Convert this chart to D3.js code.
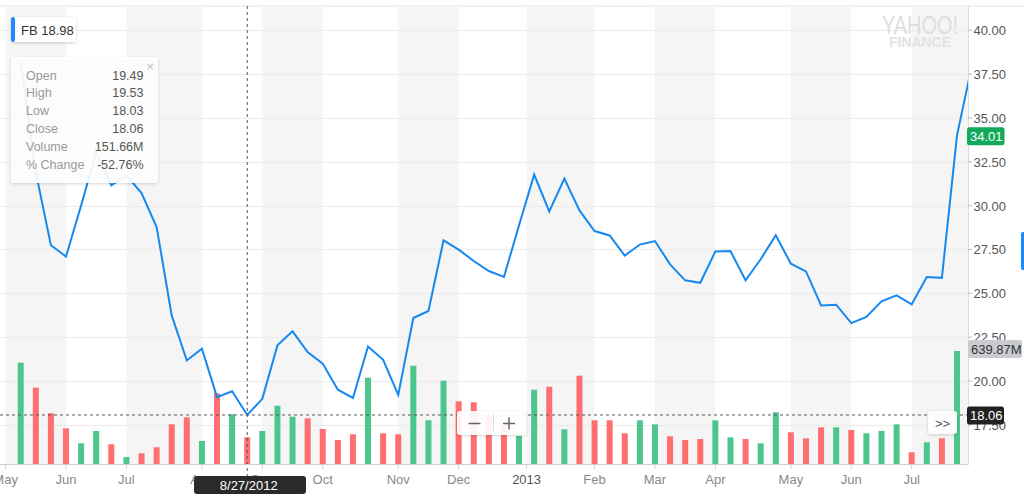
<!DOCTYPE html>
<html>
<head>
<meta charset="utf-8">
<script src="https://cdn.jsdelivr.net/npm/d3@7"></script>
<style>
  html, body { margin: 0; padding: 0; background: #fff; }
  svg { display: block; font-family: "Helvetica Neue", Helvetica, "Liberation Sans", Arial, sans-serif; }
</style>
</head>
<body>
<svg id="chart" width="1024" height="496"></svg>
<script>
// ---- data (weekly, FB, week of 2012-05-14 .. 2013-07-22, plus following week clipped) ----
const closes = [38.23,31.91,27.74,27.10,30.01,33.05,31.16,31.73,30.72,28.78,
  23.74,21.17,21.84,19.08,19.41,18.06,18.98,22.03,22.83,21.65,
  20.99,19.50,19.03,21.97,21.21,19.21,23.59,23.99,28.02,27.49,
  26.84,26.27,25.93,28.88,31.77,29.67,31.54,29.73,28.55,28.30,
  27.15,27.78,27.98,26.65,25.74,25.60,27.39,27.41,25.74,26.94,
  28.31,26.69,26.25,24.31,24.35,23.30,23.65,24.54,24.88,24.37,
  25.93,25.88,34.01,38.05];
const volumesM = [573.6,432.1,287.1,202.2,117.2,186.9,111.6,39.6,60.6,94.6,
  224.8,264.4,130.2,400.3,281.4,151.66,186.9,330.1,267.8,258.8,
  198.2,135.9,168.2,488.7,173.8,168.2,556.6,247.5,471.7,355.0,
  349.4,270,220,158.6,420.7,437.7,196.5,500.0,247.5,247.5,
  173.8,247.5,224.8,156.9,135.9,141.6,247.5,151.2,141.6,117.2,
  292.8,179.5,145.5,207.8,207.8,192.5,173.8,186.9,224.8,66.3,
  122.9,145.5,639.87];
const tickLabels = ["May","Jun","Jul","Aug","Sep","Oct","Nov","Dec","2013","Feb","Mar","Apr","May","Jun","Jul"];
const tickWeeks  = [-1, 3, 7, 12, 16, 20, 25, 29, 33.5, 38, 42, 46, 51, 55, 59];
const priceTicks = [17.5, 20, 22.5, 25, 27.5, 30, 32.5, 35, 37.5, 40];
const tooltipRows = [["Open","19.49"],["High","19.53"],["Low","18.03"],["Close","18.06"],["Volume","151.66M"],["% Change","-52.76%"]];
const hoverIndex = 15, hoverDate = "8/27/2012", hoverClose = 18.06;
const lastClose = 34.01, lastVolume = "639.87M", symbolLabel = "FB 18.98";

// ---- layout ----
const W = 1024, H = 496;
const plotL = 0, plotR = 968, plotT = 6, plotB = 464;
const svg = d3.select("#chart");

const x = d3.scaleLinear().domain([0, 62]).range([20.7, 957]);
const y = d3.scaleLinear().domain([17.5, 40]).range([424.8, 30.3]);
const yv = d3.scaleLinear().domain([0, 639.87]).range([plotB, 351]);

const defs = svg.append("defs");
defs.append("clipPath").attr("id","clip").append("rect")
  .attr("x", plotL).attr("y", plotT).attr("width", plotR - plotL).attr("height", plotB - plotT);
const sh = defs.append("filter").attr("id","shadow").attr("x","-20%").attr("y","-20%").attr("width","140%").attr("height","150%");
sh.append("feDropShadow").attr("dx",0).attr("dy",1).attr("stdDeviation",1.6).attr("flood-color","#000").attr("flood-opacity",0.18);

// top border
svg.append("line").attr("x1",0).attr("x2",W).attr("y1",plotT).attr("y2",plotT).attr("stroke","#e4e4e4");

// alternating month bands
const bands = svg.append("g").attr("clip-path","url(#clip)");
tickWeeks.forEach((t, k) => {
  if (k % 2 === 0) {
    const x0 = x(t), x1 = k + 1 < tickWeeks.length ? x(tickWeeks[k+1]) : plotR;
    bands.append("rect").attr("x", x0).attr("y", plotT).attr("width", x1 - x0).attr("height", plotB - plotT).attr("fill","#f5f5f5");
  }
});

// grid lines
svg.append("g").selectAll("line").data(priceTicks).join("line")
  .attr("x1", plotL).attr("x2", plotR).attr("y1", d => Math.round(y(d)) + 0.5).attr("y2", d => Math.round(y(d)) + 0.5)
  .attr("stroke","#ebebeb");

// volume bars
const up = volumesM.map((v, i) => i === 0 || closes[i] >= closes[i-1]);
svg.append("g").attr("clip-path","url(#clip)").selectAll("rect").data(volumesM).join("rect")
  .attr("x", (d, i) => x(i) - 3).attr("width", 6)
  .attr("y", d => yv(d)).attr("height", d => plotB - yv(d))
  .attr("fill", (d, i) => up[i] ? "#4cc68d" : "#ff6f70");

// price line
svg.append("path").attr("clip-path","url(#clip)")
  .datum(closes)
  .attr("d", d3.line().x((d, i) => x(i)).y(d => y(d)))
  .attr("fill","none").attr("stroke","#1589f0").attr("stroke-width",2).attr("stroke-linejoin","miter");

// crosshairs
svg.append("line").attr("x1", plotL).attr("x2", plotR).attr("y1", y(hoverClose)).attr("y2", y(hoverClose))
  .attr("stroke","#555").attr("stroke-dasharray","3,3").attr("stroke-width",1);
svg.append("line").attr("x1", x(hoverIndex)).attr("x2", x(hoverIndex)).attr("y1", plotT).attr("y2", 477)
  .attr("stroke","#555").attr("stroke-dasharray","3,3").attr("stroke-width",1);

// x axis
const xa = svg.append("g").attr("transform", `translate(0,${plotB})`);
xa.append("line").attr("x1", plotL).attr("x2", plotR).attr("y1", 0.5).attr("y2", 0.5).attr("stroke","#cfcfcf");
xa.selectAll(".tk").data(tickWeeks).join("line").attr("class","tk")
  .attr("x1", d => x(d)).attr("x2", d => x(d)).attr("y1", 0).attr("y2", 5).attr("stroke","#cfcfcf");
xa.selectAll("text").data(tickLabels).join("text")
  .attr("x", (d, i) => x(tickWeeks[i])).attr("y", 20)
  .attr("text-anchor","middle").attr("font-size", 13)
  .attr("fill", d => d === "2013" ? "#555" : "#8a8a8a").text(d => d);

// y axis (right)
svg.append("line").attr("x1", plotR + 0.5).attr("x2", plotR + 0.5).attr("y1", plotT).attr("y2", plotB + 1).attr("stroke","#dcdcdc");
const ya = svg.append("g");
ya.selectAll("line").data(priceTicks).join("line")
  .attr("x1", plotR).attr("x2", plotR + 4).attr("y1", d => y(d)).attr("y2", d => y(d)).attr("stroke","#bbb");
ya.selectAll("text").data(priceTicks).join("text")
  .attr("x", 973.5).attr("y", d => y(d) + 5).attr("font-size", 13).attr("fill","#555")
  .text(d => d3.format(".2f")(d));

// watermark
svg.append("text").attr("x", 882).attr("y", 33.5).attr("font-size", 25).attr("fill","#dedede")
  .attr("textLength", 76).attr("lengthAdjust","spacingAndGlyphs").attr("font-weight", 300).text("YAHOO!");
svg.append("text").attr("x", 889).attr("y", 46.5).attr("font-size", 14.5).attr("font-weight","bold").attr("fill","#e2e2e2")
  .attr("textLength", 62).attr("lengthAdjust","spacingAndGlyphs").text("FINANCE");

// right-axis value labels
function axisTag(yc, x0, w, txt, fill, color) {
  const g = svg.append("g");
  g.append("rect").attr("x", x0).attr("y", yc - 9).attr("width", w).attr("height", 18).attr("rx", 2.5).attr("fill", fill);
  g.append("text").attr("x", x0 + 3).attr("y", yc + 5).attr("font-size", 13).attr("fill", color).text(txt);
}
axisTag(y(lastClose) + 1, 967, 37.5, d3.format(".2f")(lastClose), "#14aa5c", "#fff");
axisTag(yv(639.87) - 2, 968, 54, lastVolume, "#c9cbd0", "#333");
axisTag(y(hoverClose) + 0.5, 967, 37, d3.format(".2f")(hoverClose), "#222", "#fff");

// right blue tab
svg.append("rect").attr("x", 1021).attr("y", 232).attr("width", 6).attr("height", 38).attr("rx", 2).attr("fill","#1a8cff");

// symbol box
const sb = svg.append("g");
sb.append("rect").attr("x", 11).attr("y", 17).attr("width", 65).attr("height", 25).attr("rx", 3).attr("fill","#fff").attr("filter","url(#shadow)");
sb.append("rect").attr("x", 11).attr("y", 17).attr("width", 4).attr("height", 25).attr("rx", 2).attr("fill","#1a8cff");
sb.append("text").attr("x", 21).attr("y", 34.5).attr("font-size", 13).attr("fill","#333").text(symbolLabel);

// tooltip
const tt = svg.append("g");
tt.append("rect").attr("x", 11).attr("y", 57).attr("width", 147).attr("height", 126).attr("rx", 3)
  .attr("fill","#fff").attr("fill-opacity", 0.9).attr("filter","url(#shadow)");
tt.append("text").attr("x", 150).attr("y", 71).attr("font-size", 13).attr("fill","#bbb").attr("text-anchor","middle").text("×");
tt.selectAll(".lab").data(tooltipRows).join("text").attr("class","lab")
  .attr("x", 26).attr("y", (d, i) => 79.5 + i * 17.8).attr("font-size", 12.5).attr("fill","#999").text(d => d[0]);
tt.selectAll(".val").data(tooltipRows).join("text").attr("class","val")
  .attr("x", 143.5).attr("y", (d, i) => 79.5 + i * 17.8).attr("font-size", 12.5).attr("fill","#555")
  .attr("text-anchor","end").text(d => d[1]);

// zoom control
const zc = svg.append("g");
zc.append("rect").attr("x", 457).attr("y", 411).attr("width", 69).attr("height", 24).attr("rx", 3)
  .attr("fill","#fff").attr("fill-opacity", 0.92).attr("filter","url(#shadow)");
zc.append("line").attr("x1", 468.5).attr("x2", 480.5).attr("y1", 423.5).attr("y2", 423.5).attr("stroke","#666").attr("stroke-width",1.5);
zc.append("line").attr("x1", 493.5).attr("x2", 493.5).attr("y1", 415).attr("y2", 431).attr("stroke","#ddd");
zc.append("line").attr("x1", 503).attr("x2", 515).attr("y1", 423.5).attr("y2", 423.5).attr("stroke","#666").attr("stroke-width",1.5);
zc.append("line").attr("x1", 509).attr("x2", 509).attr("y1", 417.5).attr("y2", 429.5).attr("stroke","#666").attr("stroke-width",1.5);

// scroll button
const sbtn = svg.append("g");
sbtn.append("rect").attr("x", 928).attr("y", 411).attr("width", 29).attr("height", 23).attr("rx", 3)
  .attr("fill","#fff").attr("fill-opacity", 0.95).attr("filter","url(#shadow)");
sbtn.append("text").attr("x", 942.5).attr("y", 427.5).attr("font-size", 13).attr("fill","#555").attr("text-anchor","middle").text(">>");

// date label
const dl = svg.append("g");
dl.append("rect").attr("x", 194).attr("y", 476).attr("width", 112).attr("height", 18).attr("rx", 3).attr("fill","#2a2a2a");
dl.append("text").attr("x", x(hoverIndex) + 1.5).attr("y", 490).attr("font-size", 13).attr("fill","#fff").attr("text-anchor","middle").text(hoverDate);
</script>
</body>
</html>
